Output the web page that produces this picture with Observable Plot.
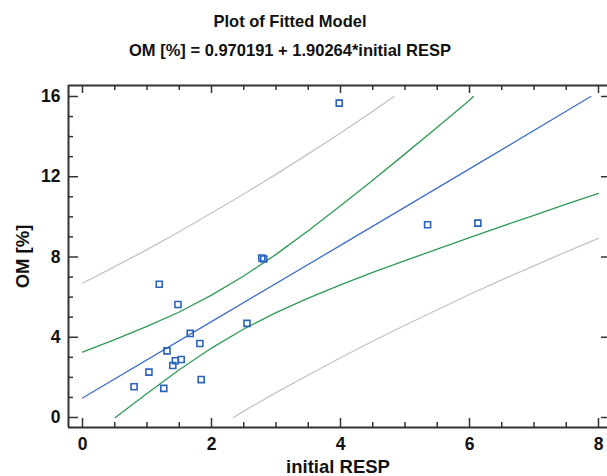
<!DOCTYPE html>
<html>
<head>
<meta charset="utf-8">
<script src="https://cdn.jsdelivr.net/npm/d3@7"></script>
<script src="https://cdn.jsdelivr.net/npm/@observablehq/plot@0.6"></script>
<style>
  html, body { margin: 0; padding: 0; background: #fff; overflow: hidden; }
  #title { position: relative; width: 580px; height: 70px; box-sizing: border-box; padding-top: 7px;
           text-align: center; font-family: "Liberation Sans", Arial, sans-serif; font-weight: bold;
           font-size: 16.5px; line-height: 29px; color: #111; }
  #title div { white-space: nowrap; }
  #chart svg { display: block; }
</style>
</head>
<body>
<div id="title"><div>Plot of Fitted Model</div><div>OM [%] = 0.970191 + 1.90264*initial RESP</div></div>
<div id="chart"></div>
<script>
// observed points
const pointX = [1.19, 1.48, 1.67, 1.82, 1.31, 1.53, 1.44, 1.40, 1.03, 0.80, 1.26, 1.84, 2.55, 2.78, 2.81, 3.98, 5.35, 6.13];
const pointY = [6.64, 5.63, 4.19, 3.69, 3.32, 2.89, 2.83, 2.59, 2.26, 1.53, 1.45, 1.89, 4.69, 7.95, 7.90, 15.67, 9.61, 9.69];

// fitted line
const fitX = [0, 2, 4, 6, 7.88];
const fitY = [0.97, 4.78, 8.58, 12.39, 16.0];

// confidence limits (green)
const confUpperX = [0, 0.5, 1, 1.5, 2, 2.5, 3, 3.5, 4, 4.5, 5, 5.5, 6, 6.06];
const confUpperY = [3.26, 3.88, 4.54, 5.26, 6.10, 7.05, 8.13, 9.31, 10.55, 11.83, 13.14, 14.47, 15.81, 16.0];
const confLowerX = [0.51, 1, 1.5, 2, 2.5, 3, 3.5, 4, 4.5, 5, 5.5, 6, 6.5, 7, 7.5, 8];
const confLowerY = [0, 1.20, 2.38, 3.46, 4.41, 5.23, 5.95, 6.61, 7.23, 7.82, 8.39, 8.97, 9.53, 10.08, 10.63, 11.17];

// prediction limits (gray)
const predUpperX = [0, 0.5, 1, 1.5, 2, 2.5, 3, 3.5, 4, 4.5, 4.83];
const predUpperY = [6.69, 7.52, 8.37, 9.26, 10.19, 11.14, 12.12, 13.14, 14.18, 15.26, 16.0];
const predLowerX = [2.34, 2.5, 3, 3.5, 4, 4.5, 5, 5.5, 6, 6.5, 7, 7.5, 8];
const predLowerY = [0, 0.32, 1.24, 2.12, 2.98, 3.80, 4.60, 5.37, 6.13, 6.86, 7.56, 8.26, 8.93];

// ticks
const xMajor = [0, 2, 4, 6, 8];
const xMinor = [0.5, 1, 1.5, 2.5, 3, 3.5, 4.5, 5, 5.5, 6.5, 7, 7.5];
const yMajor = [0, 4, 8, 12, 16];
const yMinor = [1, 2, 3, 5, 6, 7, 9, 10, 11, 13, 14, 15];
const xLabel = "initial RESP";
const yLabel = "OM [%]";

const xDomain = [-0.217, 8.1395];
const yDomain = [-0.4985, 16.548];

const zip = (xs, ys) => xs.map((x, i) => ({x, y: ys[i]}));
const points = zip(pointX, pointY);
const fit = zip(fitX, fitY);
const cu = zip(confUpperX, confUpperY), cl = zip(confLowerX, confLowerY);
const pu = zip(predUpperX, predUpperY), pl = zip(predLowerX, predLowerY);

const W = 607, H = 406, mL = 68, mR = 0, mT = 15, mB = 49;
const fw = W - mL - mR, fh = H - mT - mB;
const axisColor = "#333";
const font = "'Liberation Sans', Arial, sans-serif";

const chart = Plot.plot({
  width: W, height: H,
  marginLeft: mL, marginRight: mR, marginTop: mT, marginBottom: mB,
  x: {domain: xDomain, axis: null},
  y: {domain: yDomain, axis: null},
  style: {fontFamily: font, background: "white"},
  marks: [
    Plot.line(pu, {x: "x", y: "y", stroke: "#c4c4c4", strokeWidth: 1.3}),
    Plot.line(pl, {x: "x", y: "y", stroke: "#c4c4c4", strokeWidth: 1.3}),
    Plot.line(cu, {x: "x", y: "y", stroke: "#2f9a55", strokeWidth: 1.3}),
    Plot.line(cl, {x: "x", y: "y", stroke: "#2f9a55", strokeWidth: 1.3}),
    Plot.line(fit, {x: "x", y: "y", stroke: "#3f6fc6", strokeWidth: 1.3}),
    Plot.dot(points, {x: "x", y: "y", symbol: "square", r: 3.4, stroke: "#2b63b8", strokeWidth: 1.6, fill: "none"}),
    // frame: left, top, bottom
    Plot.ruleX([xDomain[0]], {stroke: axisColor, strokeWidth: 2}),
    Plot.ruleY([yDomain[0]], {stroke: axisColor, strokeWidth: 2}),
    Plot.ruleY([yDomain[1]], {stroke: axisColor, strokeWidth: 2}),
    // bottom ticks
    Plot.ruleX(xMajor, {x: d => d, insetTop: fh - 9, stroke: axisColor, strokeWidth: 1.5}),
    Plot.ruleX(xMinor, {x: d => d, insetTop: fh - 5, stroke: axisColor, strokeWidth: 1.5}),
    // top ticks
    Plot.ruleX(xMajor, {x: d => d, insetBottom: fh - 8, stroke: axisColor, strokeWidth: 1.5}),
    Plot.ruleX(xMinor, {x: d => d, insetBottom: fh - 5, stroke: axisColor, strokeWidth: 1.5}),
    // left ticks
    Plot.ruleY(yMajor, {y: d => d, insetRight: fw - 10, stroke: axisColor, strokeWidth: 1.5}),
    Plot.ruleY(yMinor, {y: d => d, insetRight: fw - 5, stroke: axisColor, strokeWidth: 1.5}),
    // right ticks
    Plot.ruleY(yMajor, {y: d => d, insetLeft: fw - 6, stroke: axisColor, strokeWidth: 1.5}),
    // tick labels
    Plot.text(xMajor, {x: d => d, frameAnchor: "bottom", lineAnchor: "top", dy: 10, text: d => String(d),
      fontSize: 17.5, fontWeight: "bold", fill: "#111"}),
    Plot.text(yMajor, {y: d => d, frameAnchor: "left", textAnchor: "end", dx: -8, text: d => String(d),
      fontSize: 17.5, fontWeight: "bold", fill: "#111"}),
    // axis titles
    Plot.text([xLabel], {frameAnchor: "bottom", lineAnchor: "bottom", dy: 45, text: d => d,
      fontSize: 18.5, fontWeight: "bold", fill: "#111"}),
    Plot.text([yLabel], {frameAnchor: "left", textAnchor: "middle", lineAnchor: "bottom", rotate: -90, dx: -40, text: d => d,
      fontSize: 18.5, fontWeight: "bold", fill: "#111"})
  ]
});
document.getElementById("chart").appendChild(chart);
</script>
</body>
</html>
